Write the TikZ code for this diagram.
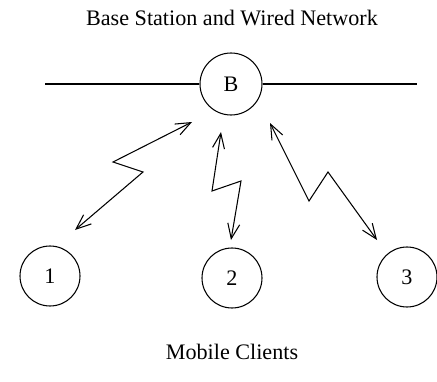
\documentclass[tikz,border=0pt]{standalone}
\usepackage{fontspec}
\setmainfont{Liberation Serif}
\usetikzlibrary{arrows.meta}
\newlength{\px}\setlength{\px}{0.02cm}
\tikzset{
  allomas/.style={circle,draw,minimum size=62\px,inner sep=0pt,font=\fontsize{12.6}{15}\selectfont},
  kliens/.style={circle,draw,minimum size=60\px,inner sep=0pt,font=\fontsize{12.6}{15}\selectfont},
  nyil/.style={{Straight Barb[length=3mm,width=2.4mm]}-{Straight Barb[length=3mm,width=2.4mm]}},
  felirat/.style={font=\fontsize{12.6}{15}\selectfont},
}
\begin{document}
\begin{tikzpicture}[x=0.02cm,y=-0.02cm,line width=0.6pt]
  \useasboundingbox (0,0) rectangle (437,382);
  \node[felirat] (cim) at (232,18) {Base Station and Wired Network};
  \node[allomas] (b) at (231,84) {B};
  \coordinate (bal) at (45,84);
  \coordinate (jobb) at (417,84);
  \draw (bal) -- (b.west);
  \draw (b.east) -- (jobb);
  \node[kliens] (k1) at (50,276) {1};
  \node[kliens] (k2) at (232,278) {2};
  \node[kliens] (k3) at (407,277) {3};
  \node[felirat] (alcim) at (232,352) {Mobile Clients};
  % radios kapcsolatok
  \coordinate (b1) at (192,122);
  \coordinate (b2) at (221,132);
  \coordinate (b3) at (270,123);
  \coordinate (v1) at (75,230);
  \coordinate (v2) at (231,240);
  \coordinate (v3) at (377,240);
  \draw[nyil] (b1) -- (113,162) -- (143,172) -- (v1);
  \draw[nyil] (b2) -- (212,191) -- (241,181) -- (v2);
  \draw[nyil] (b3) -- (309,201) -- (328,172) -- (v3);
\end{tikzpicture}
\end{document}
